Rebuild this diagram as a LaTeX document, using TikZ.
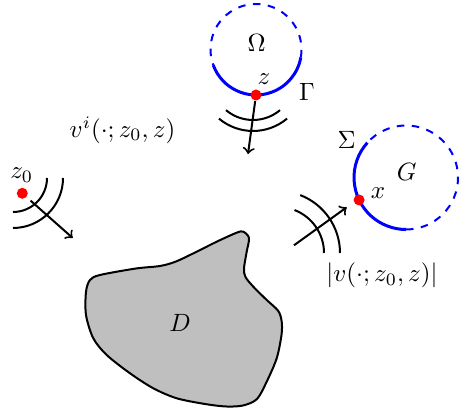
\documentclass[tikz,border=0pt]{standalone}
\usetikzlibrary{positioning}
\usepackage{amsmath}

\begin{document}
\begin{tikzpicture}[
  x=0.4pt, y=0.4pt,
  bnd/.style={blue, line width=1.2pt},
  aux/.style={blue, thick, dashed},
  wave/.style={thick},
  ray/.style={thick, ->},
  pt/.style={circle, fill=red, inner sep=0pt, minimum size=4.4pt}
]
  \useasboundingbox (0,0) rectangle (459,410);

  % obstacle
  \draw[thick, fill=gray!50] plot[smooth cycle, tension=0.5] coordinates {
    (243.3,178.3) (249,172) (246.7,158.3) (244,141.7) (245.5,133) (253.3,123.3)
    (266.7,110) (278.3,99) (281.7,88.3) (281.5,75) (276.7,51.7) (266.7,28.3)
    (257,11) (243,4.5) (226,3.5) (205,6) (176.7,11.7) (153.3,21.7)
    (130,36.7) (106.7,55) (93.3,71.7) (86,95) (86,118.3) (90,130) (100,135)
    (136,141.5) (160,144) (176,148.5) (196.7,158.3) (216.7,168.3) (236.7,177.3)};
  \node (D) at (180,86.7) {$D$};

  % source domain
  \coordinate (cO) at (256,360.5);
  \draw[aux] (cO) ++(350:45.5) arc[start angle=350, end angle=560, radius=45.5];
  \draw[bnd] (cO) ++(200:45.5) arc[start angle=200, end angle=350, radius=45.5];
  \node (Om) at (256.7,366.7) {$\Omega$};
  \node (Ga) at (307,318.3) {$\Gamma$};
  \node[pt] (z) at (256,315) {};
  \node (zl) at (264,331) {$z$};

  \coordinate (wz) at (253,332);
  \draw[wave] (wz) ++(230:42) arc[start angle=230, end angle=310, radius=42];
  \draw[wave] (wz) ++(230:53) arc[start angle=230, end angle=310, radius=53];
  \coordinate (tz) at (248,256);
  \draw[ray] (z) -- (tz);
  \node (vi) at (122.5,280) {$v^i(\cdot;z_0,z)$};

  % point source
  \node[pt] (z0) at (22.3,216.7) {};
  \node (z0l) at (21.7,235) {$z_0$};
  \coordinate (w0) at (13,232);
  \draw[wave] (w0) ++(-90:34) arc[start angle=-90, end angle=0, radius=34];
  \draw[wave] (w0) ++(-90:50) arc[start angle=-90, end angle=0, radius=50];
  \coordinate (t0) at (72.7,172);
  \draw[ray, shorten <=2pt] (z0) -- (t0);

  % measurement domain
  \coordinate (cG) at (406,232.5);
  \draw[aux] (cG) ++(270:52) arc[start angle=270, end angle=498, radius=52];
  \draw[bnd] (cG) ++(138:52) arc[start angle=138, end angle=270, radius=52];
  \node (G) at (406.7,238.3) {$G$};
  \node (Si) at (346.7,270) {$\Sigma$};
  \node[pt] (x) at (359.1,210) {};
  \node (xl) at (378,217) {$x$};

  \coordinate (wx) at (278,157);
  \draw[wave] (wx) ++(0:46) arc[start angle=0, end angle=69, radius=46];
  \draw[wave] (wx) ++(0:62) arc[start angle=0, end angle=69, radius=62];
  \coordinate (sx) at (294,164.7);
  \coordinate (tx) at (346.7,202.7);
  \draw[ray] (sx) -- (tx);
  \node (vs) at (382,134.3) {$|v(\cdot;z_0,z)|$};
\end{tikzpicture}
\end{document}
